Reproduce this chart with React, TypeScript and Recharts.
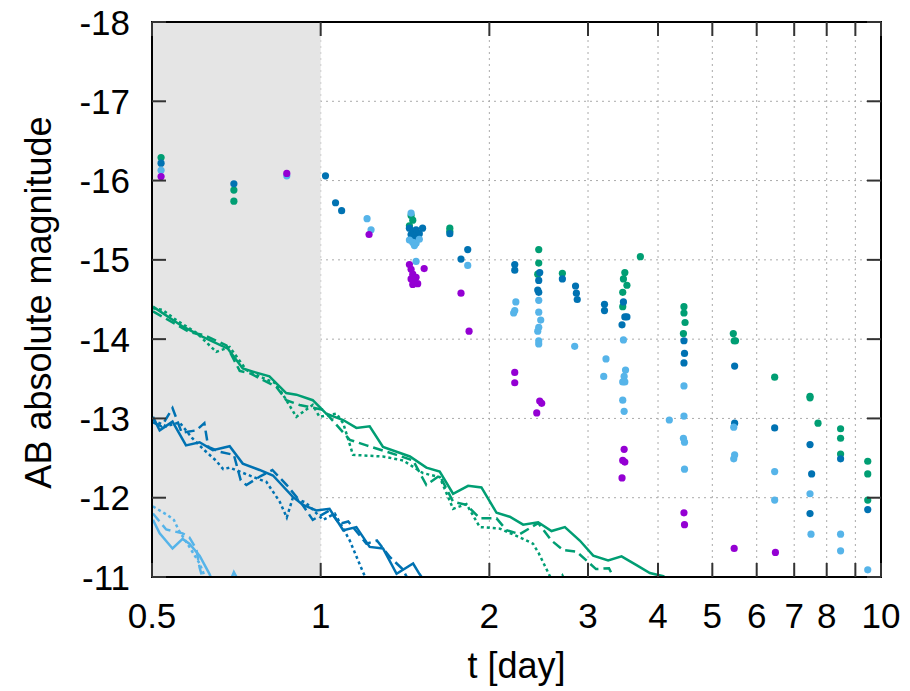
import { ComposedChart, XAxis, YAxis, CartesianGrid, Scatter, Line, ReferenceArea, Label } from 'recharts';

type Pair = [number, number];

const xTicks = [0.5, 1, 2, 3, 4, 5, 6, 7, 8, 9, 10];
const yTicks = [-18, -17, -16, -15, -14, -13, -12, -11];

// observed points [t (day), AB mag]
const greenObs: Pair[] = [
  [0.519, -16.29], [0.7, -15.88], [0.7, -15.74],
  [1.45, -15.56], [1.46, -15.5], [1.44, -15.43],
  [1.7, -15.4], [1.7, -15.36],
  [2.45, -15.13], [2.45, -14.96], [2.44, -14.82],
  [2.7, -14.83],
  [3.49, -14.84], [3.47, -14.76], [3.52, -14.68], [3.46, -14.59], [3.46, -14.41],
  [3.72, -15.04],
  [4.45, -14.41], [4.45, -14.33], [4.47, -14.21], [4.44, -14.07],
  [5.45, -14.07], [5.47, -13.98], [5.5, -13.98],
  [6.46, -13.52],
  [7.47, -13.28], [7.47, -13.26],
  [7.72, -12.94],
  [8.47, -12.87], [8.47, -12.75], [8.47, -12.55],
  [9.47, -12.46], [9.47, -12.3], [9.47, -11.97],
];

const blueObs: Pair[] = [
  [0.519, -16.22], [0.7, -15.96], [1.02, -16.06], [1.063, -15.72], [1.09, -15.62],
  [1.44, -15.4], [1.46, -15.36], [1.48, -15.38], [1.5, -15.33], [1.47, -15.3], [1.45, -15.32], [1.52, -15.4], [1.49, -15.28],
  [1.7, -15.33],
  [1.83, -15.13], [1.78, -15.01],
  [2.22, -14.94], [2.22, -14.87],
  [2.46, -14.84], [2.45, -14.74], [2.44, -14.62], [2.45, -14.59],
  [2.7, -14.76],
  [2.85, -14.67], [2.86, -14.58], [2.87, -14.5],
  [3.21, -14.44], [3.21, -14.36],
  [3.47, -14.47], [3.49, -14.28], [3.52, -14.28], [3.45, -14.18],
  [4.45, -13.98], [4.46, -13.82], [4.45, -13.7],
  [5.48, -13.66], [5.48, -12.94],
  [6.46, -12.88],
  [7.47, -12.67], [7.52, -12.3], [7.47, -11.8],
  [8.47, -12.49],
  [9.47, -11.85],
];

const skyObs: Pair[] = [
  [0.519, -16.13], [0.87, -16.06], [1.21, -15.52], [1.23, -15.38],
  [1.45, -15.59], [1.44, -15.25], [1.46, -15.22], [1.48, -15.21], [1.5, -15.26], [1.47, -15.18], [1.48, -14.98],
  [1.83, -14.93],
  [2.23, -14.47], [2.22, -14.36], [2.21, -14.33],
  [2.45, -14.49], [2.45, -14.34], [2.47, -14.24], [2.45, -14.15], [2.44, -14.1], [2.45, -13.98], [2.45, -13.94],
  [2.84, -13.91],
  [3.23, -13.75], [3.2, -13.53],
  [3.47, -13.99], [3.5, -13.61], [3.48, -13.53], [3.46, -13.46], [3.49, -13.46], [3.46, -13.23], [3.48, -13.09],
  [4.19, -12.98],
  [4.45, -13.41], [4.45, -13.03], [4.44, -12.75], [4.46, -12.7], [4.46, -12.36],
  [5.46, -12.89], [5.48, -12.54], [5.46, -12.49],
  [6.46, -12.33], [6.46, -11.97],
  [7.47, -12.05], [7.5, -11.54],
  [8.47, -11.54], [8.47, -11.33],
  [9.47, -11.09],
];

const purpleObs: Pair[] = [
  [0.519, -16.05], [0.87, -16.09], [1.22, -15.32],
  [1.44, -14.94], [1.45, -14.88], [1.46, -14.82], [1.45, -14.76], [1.47, -14.72], [1.48, -14.78], [1.49, -14.7], [1.46, -14.69], [1.53, -14.89],
  [1.78, -14.58], [1.84, -14.1],
  [2.22, -13.58], [2.22, -13.45],
  [2.46, -13.22], [2.48, -13.19], [2.43, -13.07],
  [3.48, -12.61], [3.46, -12.47], [3.49, -12.45], [3.45, -12.25],
  [4.45, -11.81], [4.46, -11.66],
  [5.47, -11.36],
  [6.48, -11.31],
];

// model light curves
const greenSolid: Pair[] = [
  [0.502, -14.41], [0.567, -14.16], [0.616, -14.03], [0.683, -13.88], [0.726, -13.63], [0.757, -13.59],
  [0.81, -13.53], [0.868, -13.32], [0.905, -13.3], [0.968, -13.23], [1.023, -13.06], [1.097, -12.98],
  [1.158, -12.88], [1.223, -12.9], [1.292, -12.64], [1.443, -12.52], [1.544, -12.38], [1.631, -12.33],
  [1.723, -12.05], [1.833, -12.15], [1.936, -12.13], [2.06, -11.81], [2.175, -11.76], [2.298, -11.66],
  [2.444, -11.69], [2.582, -11.58], [2.728, -11.63], [2.9, -11.46], [3.065, -11.27], [3.259, -11.21],
  [3.443, -11.26], [3.662, -11.15], [3.868, -11.05], [4.087, -11.01], [4.3, -10.9],
];
const greenDashed: Pair[] = [
  [0.502, -14.35], [0.583, -14.09], [0.62, -14.05], [0.679, -13.92], [0.717, -13.6], [0.747, -13.57],
  [0.833, -13.4], [0.868, -13.23], [0.917, -13.17], [1.01, -13.11], [1.127, -12.73], [1.207, -12.66],
  [1.366, -12.54], [1.462, -12.47], [1.544, -12.16], [1.631, -12.28], [1.723, -11.95], [1.82, -11.91],
  [1.923, -11.74], [2.06, -11.74], [2.146, -11.59], [2.266, -11.54], [2.444, -11.68], [2.582, -11.46],
  [2.709, -11.34], [2.862, -11.32], [3.022, -11.17], [3.1, -11.1], [3.27, -11.11], [3.33, -11.0], [3.4, -10.9],
];
const greenDotted: Pair[] = [
  [0.502, -14.39], [0.522, -14.37], [0.55, -14.25], [0.6, -14.08], [0.651, -13.84], [0.688, -13.9],
  [0.737, -13.61], [0.789, -13.51], [0.833, -13.44], [0.905, -13.02], [0.968, -13.17], [0.995, -13.02],
  [1.067, -13.06], [1.097, -12.94], [1.142, -12.54], [1.292, -12.52], [1.403, -12.47], [1.523, -12.31],
  [1.631, -12.26], [1.723, -11.86], [1.82, -11.92], [1.923, -11.63], [2.088, -11.61], [2.266, -11.5],
  [2.393, -11.42], [2.45, -11.3], [2.565, -11.01], [2.62, -10.9], [2.7, -11.02], [2.75, -10.9],
];

const blueSolid: Pair[] = [
  [0.502, -13.02], [0.516, -12.85], [0.544, -12.96], [0.575, -12.66], [0.608, -12.7], [0.642, -12.6],
  [0.688, -12.65], [0.726, -12.43], [0.778, -12.35], [0.822, -12.28], [0.892, -12.01], [0.93, -11.91],
  [0.982, -11.84], [1.037, -11.86], [1.097, -11.59], [1.158, -11.63], [1.223, -11.38], [1.292, -11.36],
  [1.366, -11.04], [1.462, -11.17], [1.5, -11.04], [1.55, -10.9],
];
const blueDashed: Pair[] = [
  [0.502, -12.95], [0.52, -12.9], [0.544, -13.13], [0.565, -12.82], [0.6, -12.85], [0.62, -12.94],
  [0.63, -12.64], [0.66, -12.58], [0.7, -12.54], [0.72, -12.22], [0.737, -12.16], [0.78, -12.27],
  [0.82, -12.35], [0.87, -12.16], [0.92, -11.95], [0.968, -11.72], [1.037, -11.84], [1.08, -11.67],
  [1.12, -11.7], [1.207, -11.42], [1.26, -11.46], [1.33, -11.25], [1.4, -11.1], [1.45, -10.9],
];
const blueDotted: Pair[] = [
  [0.502, -12.98], [0.53, -12.9], [0.56, -12.95], [0.59, -12.75], [0.62, -12.6], [0.65, -12.47],
  [0.67, -12.36], [0.688, -12.38], [0.778, -12.23], [0.8, -12.2], [0.845, -11.95], [0.87, -11.75],
  [0.892, -12.0], [0.94, -11.94], [1.01, -11.72], [1.06, -11.8], [1.127, -11.46], [1.19, -11.06], [1.22, -10.9],
];

const skySolid: Pair[] = [
  [0.502, -11.72], [0.516, -11.55], [0.544, -11.36], [0.567, -11.48], [0.583, -11.42], [0.608, -11.27],
  [0.633, -11.04], [0.645, -10.9], [0.685, -10.9], [0.7, -11.06], [0.72, -10.9],
];
const skyDashed: Pair[] = [
  [0.502, -11.8], [0.53, -11.6], [0.567, -11.55], [0.583, -11.5], [0.6, -11.35], [0.608, -11.12], [0.62, -10.9],
];
const skyDotted: Pair[] = [
  [0.502, -11.89], [0.533, -11.78], [0.547, -11.72], [0.558, -11.59], [0.583, -11.38], [0.608, -11.17],
  [0.62, -11.02], [0.63, -10.9],
];

const GREEN = '#009e73';
const BLUE = '#0072b2';
const SKY = '#56b4e9';
const PURPLE = '#9400d3';
const FONT = '"Liberation Sans", Arial, Helvetica, sans-serif';

const W = 910;
const H = 691;
const MARGIN = { top: 22, right: 29, left: 0, bottom: 0 };
const Y_AXIS_W = 152;
const X_AXIS_H = 114;
const PLOT_W = W - MARGIN.right - Y_AXIS_W;
const PLOT_H = H - MARGIN.top - X_AXIS_H;
const X_DOMAIN = [0.5, 10];
const Y_DOMAIN = [-18, -11];
const TICK = 14;
const TICK_COLOR = '#333';

const rows = (p: Pair[]) => p.map(([t, m]) => ({ t, m }));

const dotShape = (color: string) => (props: any) => (
  <circle cx={props.cx} cy={props.cy} r={3.6} fill={color} />
);

function BottomLabel({ x, y, payload }: any) {
  const v = payload.value;
  return (
    <text x={x} y={y + 51} textAnchor="middle" fontSize={35} fontFamily={FONT} fill="#000">
      {v === 9 ? '' : String(v)}
    </text>
  );
}

function LeftLabel({ x, y, payload }: any) {
  return (
    <text x={x - 22} y={y + 12.5} textAnchor="end" fontSize={35} fontFamily={FONT} fill="#000">
      {payload.value}
    </text>
  );
}

// inward marks for the overlay chart: bottom + top, left + right
function XMarks({ x, y }: any) {
  return (
    <g>
      <line x1={x} y1={y} x2={x} y2={y - TICK} stroke={TICK_COLOR} strokeWidth={2} />
      <line x1={x} y1={y - PLOT_H} x2={x} y2={y - PLOT_H + TICK} stroke={TICK_COLOR} strokeWidth={2} />
    </g>
  );
}

function YMarks({ x, y }: any) {
  return (
    <g>
      <line x1={x} y1={y} x2={x + TICK} y2={y} stroke={TICK_COLOR} strokeWidth={2} />
      <line x1={x + PLOT_W} y1={y} x2={x + PLOT_W - TICK} y2={y} stroke={TICK_COLOR} strokeWidth={2} />
    </g>
  );
}

const XTitle = (props: any) => {
  const vb = props.viewBox;
  return (
    <text x={vb.x + vb.width / 2} y={vb.y + vb.height - 13} textAnchor="middle" fontSize={36} fontFamily={FONT} fill="#000">
      t [day]
    </text>
  );
};

const YTitle = (props: any) => {
  const vb = props.viewBox;
  const cx = vb.x + 51;
  const cy = vb.y + vb.height / 2 + 3;
  return (
    <text x={cx} y={cy} transform={`rotate(-90 ${cx} ${cy})`} textAnchor="middle" fontSize={36} fontFamily={FONT} fill="#000">
      AB absolute magnitude
    </text>
  );
};

const curves = [
  { key: 'gs', data: greenSolid, color: GREEN, dash: undefined },
  { key: 'gd', data: greenDashed, color: GREEN, dash: '10 5' },
  { key: 'go', data: greenDotted, color: GREEN, dash: '3 3' },
  { key: 'bs', data: blueSolid, color: BLUE, dash: undefined },
  { key: 'bd', data: blueDashed, color: BLUE, dash: '10 5' },
  { key: 'bo', data: blueDotted, color: BLUE, dash: '3 3' },
  { key: 'ss', data: skySolid, color: SKY, dash: undefined },
  { key: 'sd', data: skyDashed, color: SKY, dash: '10 5' },
  { key: 'so', data: skyDotted, color: SKY, dash: '3 3' },
];

const observed = [
  { key: 'green', data: greenObs, color: GREEN },
  { key: 'blue', data: blueObs, color: BLUE },
  { key: 'sky', data: skyObs, color: SKY },
  { key: 'purple', data: purpleObs, color: PURPLE },
];

// corners of the domain, only so the overlay axes have something bound to them
const overlayAnchor = [
  { t: X_DOMAIN[0], m: Y_DOMAIN[0] },
  { t: X_DOMAIN[1], m: Y_DOMAIN[1] },
];

function TickOverlay() {
  return (
    <ComposedChart width={W} height={H} margin={MARGIN}>
      <Scatter data={overlayAnchor} dataKey="m" shape={() => <g />} isAnimationActive={false} />
      <XAxis dataKey="t" type="number" scale="log" domain={X_DOMAIN} ticks={xTicks} interval={0} allowDataOverflow
        height={X_AXIS_H} tickSize={0} tickMargin={0} tickLine={false} axisLine={false} tick={<XMarks />} />
      <YAxis type="number" domain={Y_DOMAIN} reversed ticks={yTicks} interval={0} allowDataOverflow
        width={Y_AXIS_W} tickSize={0} tickMargin={0} tickLine={false} axisLine={false} tick={<YMarks />} />
    </ComposedChart>
  );
}

export default function App() {
  return (
    <div style={{ position: 'absolute', left: 0, top: 0, width: W, height: H, background: '#fff' }}>
      <ComposedChart width={W} height={H} margin={MARGIN}>
        <CartesianGrid stroke="#aaa" strokeDasharray="2 4" />
        <ReferenceArea x1={X_DOMAIN[0]} x2={1} y1={Y_DOMAIN[0]} y2={Y_DOMAIN[1]} fill="#e5e5e5" fillOpacity={1} stroke="none" />
        {curves.map((c) => (
          <Line
            key={c.key}
            data={rows(c.data)}
            dataKey="m"
            type="linear"
            stroke={c.color}
            strokeWidth={2.5}
            strokeDasharray={c.dash}
            dot={false}
            activeDot={false}
            isAnimationActive={false}
          />
        ))}
        {observed.map((o) => (
          <Scatter
            key={o.key}
            data={rows(o.data)}
            dataKey="m"
            shape={dotShape(o.color)}
            isAnimationActive={false}
          />
        ))}
        {/* plot frame */}
        <ReferenceArea x1={X_DOMAIN[0]} x2={X_DOMAIN[1]} y1={Y_DOMAIN[0]} y2={Y_DOMAIN[1]} fill="none" stroke="#000" strokeWidth={2} />
        <XAxis
          dataKey="t"
          type="number"
          scale="log"
          domain={X_DOMAIN}
          ticks={xTicks}
          interval={0}
          allowDataOverflow
          height={X_AXIS_H}
          tickSize={0}
          tickMargin={0}
          tickLine={false}
          tick={<BottomLabel />}
          axisLine={{ stroke: '#000', strokeWidth: 2 }}
        >
          <Label content={XTitle} />
        </XAxis>
        <YAxis
          type="number"
          domain={Y_DOMAIN}
          reversed
          ticks={yTicks}
          interval={0}
          allowDataOverflow
          width={Y_AXIS_W}
          tickSize={0}
          tickMargin={0}
          tickLine={false}
          tick={<LeftLabel />}
          axisLine={{ stroke: '#000', strokeWidth: 2 }}
        >
          <Label content={YTitle} />
        </YAxis>
      </ComposedChart>
      <div style={{ position: 'absolute', left: 0, top: 0, pointerEvents: 'none' }}>
        <TickOverlay />
      </div>
    </div>
  );
}
